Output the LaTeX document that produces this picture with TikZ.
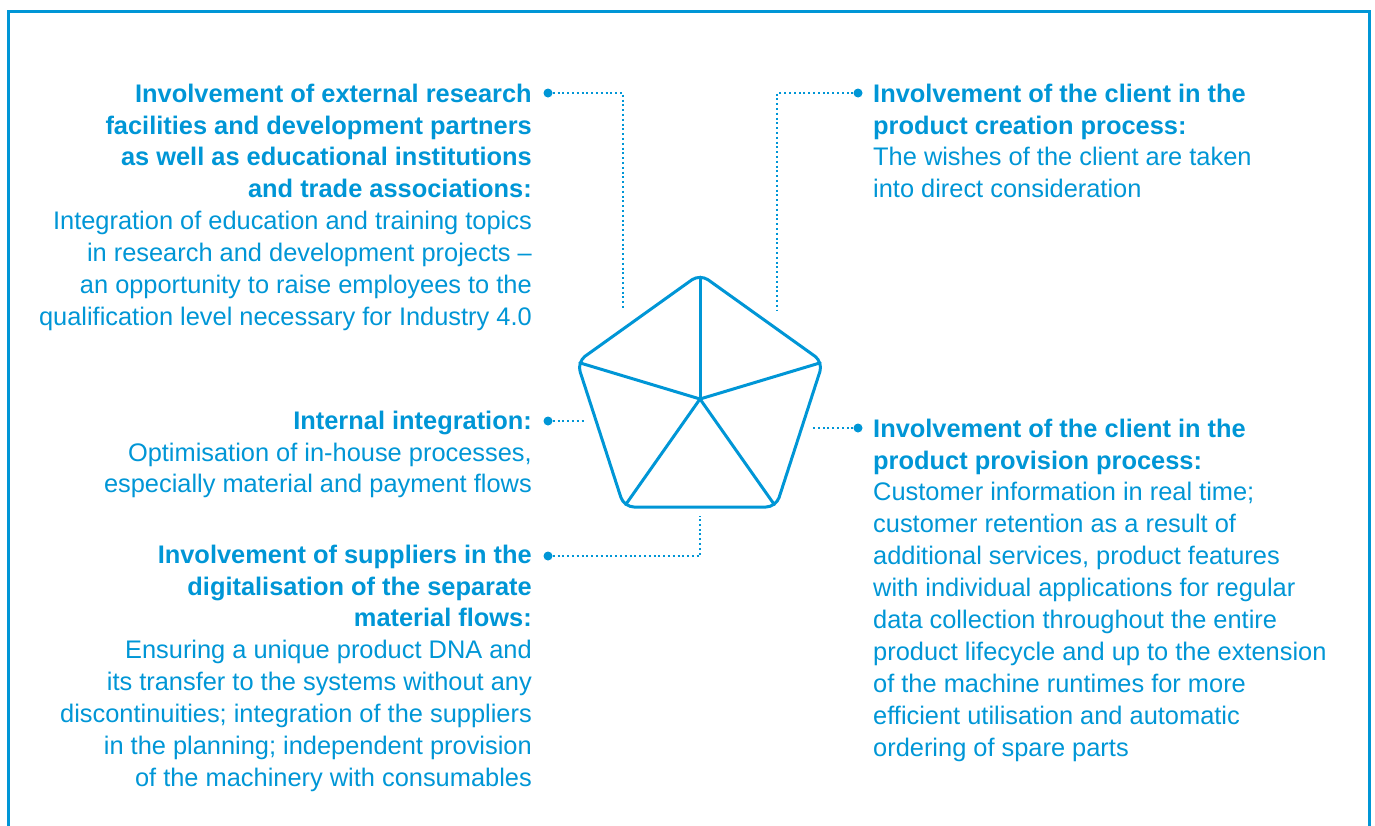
\documentclass[tikz,border=0pt]{standalone}
\usepackage{fontspec}
\setmainfont{Liberation Sans}
\definecolor{ablue}{RGB}{0,150,214}
\begin{document}
\begin{tikzpicture}[x=1pt,y=-1pt,
  txt/.style={inner sep=0pt, text=ablue, font=\fontsize{25.4}{31.9}\selectfont},
  ltxt/.style={txt, anchor=north east, align=right},
  rtxt/.style={txt, anchor=north west, align=left},
  bullet/.style={circle, fill=ablue, inner sep=0pt, minimum size=9pt},
  conn/.style={draw=ablue, line width=2pt, dash pattern=on 2pt off 2.8pt},
  pent/.style={draw=ablue, line width=3pt, rounded corners=10pt, line join=round},
  spoke/.style={draw=ablue, line width=3pt, shorten >=3pt, line cap=round},
  frame/.style={draw=ablue, line width=3pt}]
\useasboundingbox (0,0) rectangle (1375,825);
\clip (0,0) rectangle (1375,825);
% frame
\draw[frame] (8.5,840) -- (8.5,11.5) -- (1369.5,11.5) -- (1369.5,840);
% pentagon
\coordinate (pc) at (700,399);
\coordinate (v1) at (700,274);
\coordinate (v2) at (823,362);
\coordinate (v3) at (776,507);
\coordinate (v4) at (624,507);
\coordinate (v5) at (577,362);
\coordinate (m12) at (761.5,318);
\draw[pent] (m12) -- (v2) -- (v3) -- (v4) -- (v5) -- (v1) -- cycle;
\foreach \v in {v1,v2,v3,v4,v5} \draw[spoke] (pc) -- (\v);
% connector ends near the pentagon
\coordinate (c1) at (623,310);
\coordinate (c2) at (777,310);
\coordinate (c3) at (584,421);
\coordinate (c4) at (813,428);
\coordinate (c5) at (700,516);
% bullets
\node[bullet] (d1) at (548,93) {};
\node[bullet] (d2) at (858,93) {};
\node[bullet] (d3) at (548,421) {};
\node[bullet] (d4) at (858,428) {};
\node[bullet] (d5) at (548,556) {};
\draw[conn] (d1) -| (c1);
\draw[conn] (d2) -| (c2);
\draw[conn] (d3) -- (c3);
\draw[conn] (d4) -- (c4);
\draw[conn] (d5) -| (c5);
% texts
\node[ltxt] (t1) at (532,79.6) {\strut\textbf{Involvement of external research}\\
\textbf{facilities and development partners}\\
\textbf{as well as educational institutions}\\
\textbf{and trade associations:}\\
Integration of education and training topics\\
in research and development projects –\\
an opportunity to raise employees to the\\
qualification level necessary for Industry 4.0};
\node[rtxt] (t2) at (873,79.6) {\strut\textbf{Involvement of the client in the}\\
\textbf{product creation process:}\\
The wishes of the client are taken\\
into direct consideration};
\node[ltxt] (t3) at (532,406.6) {\strut\textbf{Internal integration:}\\
Optimisation of in-house processes,\\
especially material and payment flows};
\node[rtxt] (t4) at (873,414.6) {\strut\textbf{Involvement of the client in the}\\
\textbf{product provision process:}\\
Customer information in real time;\\
customer retention as a result of\\
additional services, product features\\
with individual applications for regular\\
data collection throughout the entire\\
product lifecycle and up to the extension\\
of the machine runtimes for more\\
efficient utilisation and automatic\\
ordering of spare parts};
\node[ltxt] (t5) at (532,540.6) {\strut\textbf{Involvement of suppliers in the}\\
\textbf{digitalisation of the separate}\\
\textbf{material flows:}\\
Ensuring a unique product DNA and\\
its transfer to the systems without any\\
discontinuities; integration of the suppliers\\
in the planning; independent provision\\
of the machinery with consumables};
\end{tikzpicture}
\end{document}
